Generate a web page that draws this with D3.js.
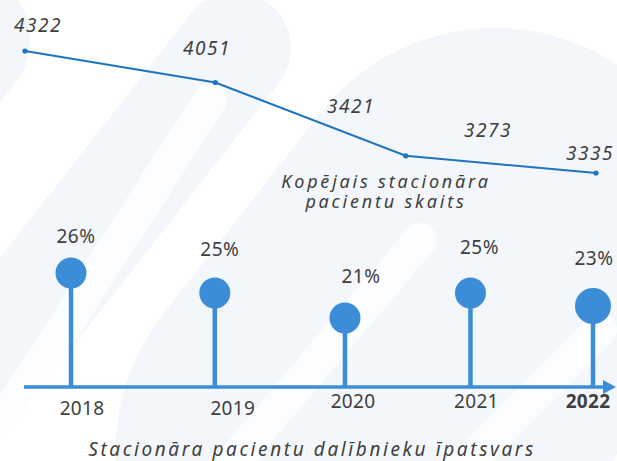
<!DOCTYPE html>
<html>
<head>
<meta charset="utf-8">
<script src="https://cdn.jsdelivr.net/npm/d3@7"></script>
<style>
  body { margin: 0; background: #fff; }
  text { font-family: "Noto Sans", "Open Sans", sans-serif; fill: #3f3f3f; }
</style>
</head>
<body>
<div id="chart"></div>
<script>
const years = [2018, 2019, 2020, 2021, 2022];
const patientTotals = [4322, 4051, 3421, 3273, 3335];
// the drawn line only has four vertices in the original graphic
const lineValues = [4322, 4051, 3421, 3273];
const shares = [26, 25, 21, 25, 23];
const highlightYear = 2022;

// label placement (hand placed in the source graphic)
const totalLabelPos = [[38, 32], [207, 55], [351, 113], [488, 137], [590, 160]];
const shareNudge = [[5, -15], [5, -22], [16, -20], [9, -24], [1, -23]];
const yearNudge = [[11, 28], [18, 28], [8, 21], [6, 21], [-5, 21]];

const width = 617, height = 461, axisY = 387;
const blue = "#3a8dd6", lineBlue = "#1f74bf";

const svg = d3.select("#chart")
  .append("svg")
  .attr("width", width)
  .attr("height", height);

// faint background shapes
const bg = svg.append("g").attr("fill", "#f3f6fa");
const bands = [
  { cx: 235, cy: 48, r: 56, len: 700 },
  { cx: 495, cy: 250, r: 222, len: 700 },
  { cx: -40, cy: 40, r: 70, len: 400 }
];
bands.forEach(b => {
  bg.append("rect")
    .attr("x", b.cx - b.r)
    .attr("y", b.cy - b.r)
    .attr("width", b.r * 2)
    .attr("height", b.len)
    .attr("rx", b.r)
    .attr("transform", `rotate(38,${b.cx},${b.cy})`);
});
// white diagonal gaps
const gaps = [[-60, 520, 210, 100], [150, 560, 420, 240], [330, 600, 600, 330]];
svg.append("g").selectAll("line").data(gaps).join("line")
  .attr("x1", d => d[0]).attr("y1", d => d[1])
  .attr("x2", d => d[2]).attr("y2", d => d[3])
  .attr("stroke", "#fff").attr("stroke-width", 34).attr("stroke-linecap", "round")
  .attr("opacity", 0.8);

// ---- top: total patients line ----
const xLine = d3.scaleLinear()
  .domain([0, lineValues.length - 1])
  .range([25, 596]);

const yLine = d3.scaleLinear()
  .domain([d3.max(lineValues), d3.min(lineValues)])
  .range([51, 173]);

const line = d3.line()
  .x((d, i) => xLine(i))
  .y(d => yLine(d));

svg.append("path")
  .datum(lineValues)
  .attr("fill", "none")
  .attr("stroke", lineBlue)
  .attr("stroke-width", 2)
  .attr("d", line);

svg.selectAll(".dot")
  .data(lineValues)
  .join("circle")
  .attr("class", "dot")
  .attr("cx", (d, i) => xLine(i))
  .attr("cy", d => yLine(d))
  .attr("r", 2.6)
  .attr("fill", lineBlue);

svg.selectAll(".total-label")
  .data(patientTotals)
  .join("text")
  .attr("class", "total-label")
  .attr("x", (d, i) => totalLabelPos[i][0])
  .attr("y", (d, i) => totalLabelPos[i][1])
  .attr("text-anchor", "middle")
  .style("font-size", "19px")
  .style("font-style", "italic")
  .style("letter-spacing", "1.5px")
  .text(d => d);

const subLines = ["Kopējais stacionāra", "pacientu skaits"];
svg.selectAll(".subtitle")
  .data(subLines)
  .join("text")
  .attr("class", "subtitle")
  .attr("x", 386)
  .attr("y", (d, i) => 188 + i * 20)
  .attr("text-anchor", "middle")
  .style("font-size", "18px")
  .style("font-style", "italic")
  .style("letter-spacing", "2.8px")
  .text(d => d);

// ---- bottom: share lollipops ----
const xPop = d3.scalePow()
  .exponent(0.93)
  .domain([0, years.length - 1])
  .range([71, 593]);

const yPop = d3.scaleLinear()
  .domain([21, 23, 25, 26])
  .range([318, 306, 293, 273]);

const radius = i => years[i] === highlightYear ? 18 : 15.5;

svg.append("line")
  .attr("x1", 24).attr("x2", 606)
  .attr("y1", axisY).attr("y2", axisY)
  .attr("stroke", blue)
  .attr("stroke-width", 3.6);

svg.append("path")
  .attr("d", `M603,${axisY - 7}L616,${axisY}L603,${axisY + 7}Z`)
  .attr("fill", blue);

svg.selectAll(".stem")
  .data(shares)
  .join("line")
  .attr("class", "stem")
  .attr("x1", (d, i) => xPop(i)).attr("x2", (d, i) => xPop(i))
  .attr("y1", axisY).attr("y2", d => yPop(d))
  .attr("stroke", blue)
  .attr("stroke-width", 4.5);

svg.selectAll(".pop")
  .data(shares)
  .join("circle")
  .attr("class", "pop")
  .attr("cx", (d, i) => xPop(i))
  .attr("cy", d => yPop(d))
  .attr("r", (d, i) => radius(i))
  .attr("fill", blue);

svg.selectAll(".share-label")
  .data(shares)
  .join("text")
  .attr("class", "share-label")
  .attr("x", (d, i) => xPop(i) + shareNudge[i][0])
  .attr("y", (d, i) => yPop(d) - radius(i) + shareNudge[i][1])
  .attr("text-anchor", "middle")
  .style("font-size", "19px")
  .style("letter-spacing", "0.5px")
  .text(d => d + "%");

svg.selectAll(".year-label")
  .data(years)
  .join("text")
  .attr("class", "year-label")
  .attr("x", (d, i) => xPop(i) + yearNudge[i][0])
  .attr("y", (d, i) => axisY + yearNudge[i][1])
  .attr("text-anchor", "middle")
  .style("font-size", "19px")
  .style("font-weight", d => d === highlightYear ? "bold" : "normal")
  .style("letter-spacing", "0.3px")
  .text(d => d);

svg.append("text")
  .attr("x", 312)
  .attr("y", 456)
  .attr("text-anchor", "middle")
  .style("font-size", "19px")
  .style("font-style", "italic")
  .style("letter-spacing", "2.6px")
  .text("Stacionāra pacientu dalībnieku īpatsvars");
</script>
</body>
</html>
